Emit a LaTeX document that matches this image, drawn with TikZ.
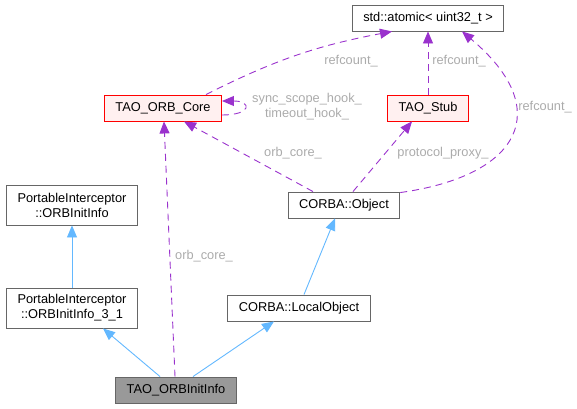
\documentclass[tikz,border=0pt]{standalone}
\usepackage{fontspec}
\setmainfont{Liberation Sans}
\usetikzlibrary{arrows.meta}
\definecolor{depcol}{HTML}{9A32CD}
\definecolor{inhcol}{HTML}{63B8FF}
\definecolor{lblcol}{HTML}{ABABAB}
\definecolor{edgecol}{HTML}{666666}
\definecolor{hotfill}{HTML}{FFF0F0}
\definecolor{curfill}{HTML}{999999}
\begin{document}
\begin{tikzpicture}[x=1pt,y=-1pt,node distance=90pt,font=\fontsize{12.8}{15}\selectfont]

\tikzstyle{sq} = [rectangle,minimum height=26pt, inner xsep=11pt, inner ysep=3pt, align=center, text centered, draw=edgecol, line width=0.9pt, fill=white]
\tikzstyle{hot} = [sq, draw=red, fill=hotfill]
\tikzstyle{cur} = [sq, fill=curfill]
\tikzstyle{dep} = [depcol, line width=0.9pt, dash pattern=on 7pt off 5pt, -{Triangle[length=12pt,width=10pt]}]
\tikzstyle{inh} = [inhcol, line width=0.9pt, -{Triangle[length=12pt,width=10pt]}]
\tikzstyle{lbl} = [text=lblcol, inner sep=0pt, align=center]
\useasboundingbox (0,0) rectangle (577,408);
\node (atomic) [sq] at (428,18) {std::atomic< uint32\_t >};
\node (stub) [hot, below of=atomic] {TAO\_Stub};
\node (core) [hot, left of=stub, xshift=-175pt] {TAO\_ORB\_Core};
\node (obj) [sq, below of=stub, xshift=-84pt, yshift=-7pt] {CORBA::Object};
\node (pii) [sq, below of=core, xshift=-91pt, yshift=-7pt, minimum height=40pt] {PortableInterceptor\\::ORBInitInfo};
\node (pii31) [sq, below of=pii, yshift=-13pt, minimum height=40pt] {PortableInterceptor\\::ORBInitInfo\_3\_1};
\node (local) [sq, right of=pii31, xshift=137pt] {CORBA::LocalObject};
\node (info) [cur, below of=pii31, xshift=104pt, yshift=8pt] {TAO\_ORBInitInfo};
\node (lrefa) [lbl] at (351,61) {refcount\_};
\node (lrefb) [lbl] at (459,61) {refcount\_};
\node (lrefc) [lbl] at (545,107) {refcount\_};
\node (lhook) [lbl] at (307,107) {sync\_scope\_hook\_\\timeout\_hook\_};
\node (lorba) [lbl] at (293,153) {orb\_core\_};
\node (lproxy) [lbl] at (443,153) {protocol\_proxy\_};
\node (lorbb) [lbl, anchor=west] at (175,256) {orb\_core\_};
\draw[inh] (pii31) -- (pii);
\draw[inh] ([xshift=5pt]local.north) -- ([xshift=-9pt]obj.south);
\draw[inh] ([xshift=-16pt]info.north) -- ([xshift=31pt]pii31.south);
\draw[inh] ([xshift=17pt]info.north) -- ([xshift=-25pt]local.south);
\draw[dep] ([xshift=-1pt]info.north) -- ([xshift=1pt]core.south);
\draw[dep] ([xshift=-31pt]obj.north) -- ([xshift=21pt]core.south);
\draw[dep] ([xshift=9pt]obj.north) -- ([xshift=-16pt]stub.south);
\draw[dep] (stub.north) -- (stub.north |- atomic.south);
\draw[dep] ([xshift=43pt]core.north) to[bend left=8] ([xshift=-36pt]atomic.south);
\draw[dep] ([yshift=-1pt]obj.north east) to[out=8,in=-40,looseness=1.8] ([xshift=34pt]atomic.south);
\draw[dep] ([yshift=-7pt]core.east) to[out=0,in=0,looseness=5.5] ([yshift=7pt]core.east);
\end{tikzpicture}
\end{document}
